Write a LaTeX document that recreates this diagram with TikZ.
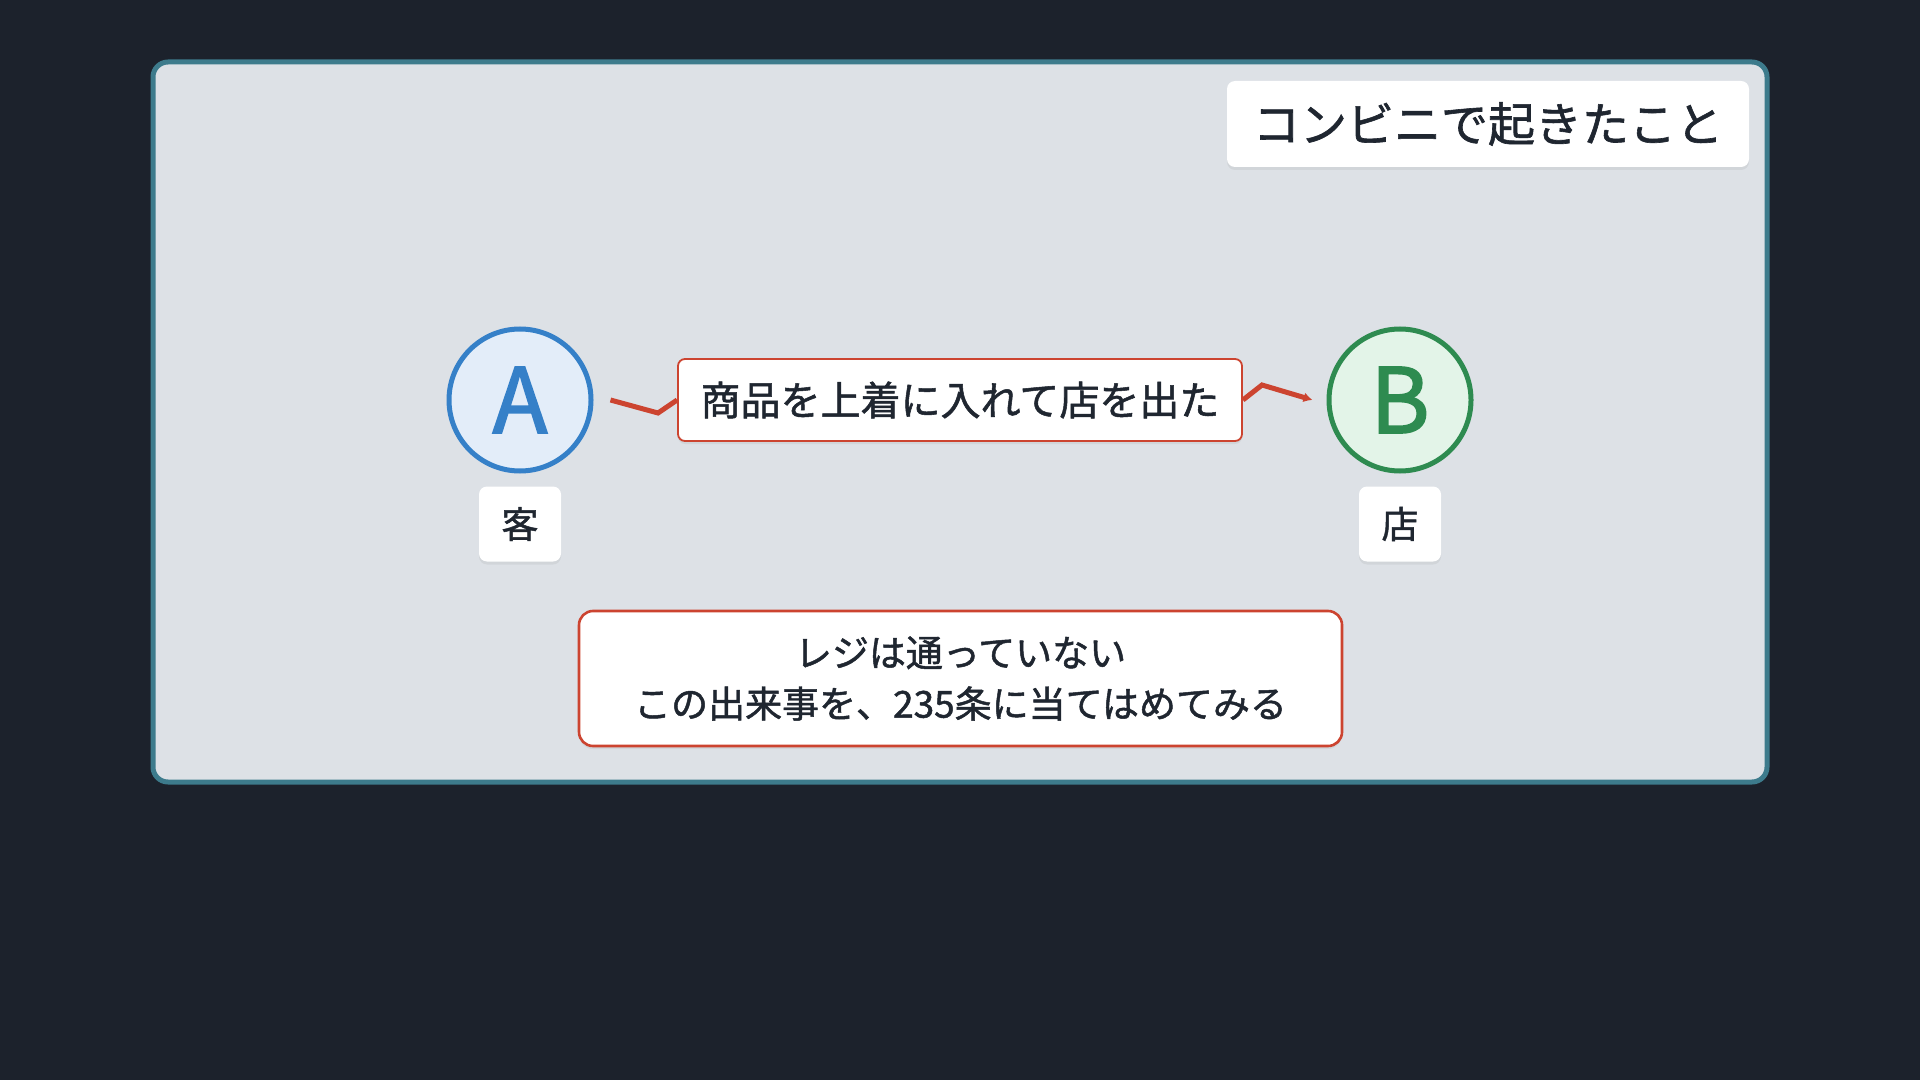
\documentclass[tikz,border=0pt]{standalone}
\usepackage{fontspec}
\setmainfont{Noto Sans CJK JP}
\newfontfamily\medfont{Noto Sans CJK JP}[FakeBold=1.3]
\newfontfamily\letterfont{Noto Sans CJK JP}[FakeBold=2.0]
\usetikzlibrary{arrows.meta,shadows}
\definecolor{bgdark}{HTML}{1C222C}
\definecolor{framefill}{HTML}{DDE1E6}
\definecolor{frameline}{HTML}{3D7B8C}
\definecolor{txt}{HTML}{1F2630}
\definecolor{ablue}{HTML}{3580C8}
\definecolor{afill}{HTML}{E3EDF9}
\definecolor{bgreen}{HTML}{2E8B50}
\definecolor{bfill}{HTML}{E3F4E8}
\definecolor{redline}{HTML}{CC4430}
\begin{document}
\begin{tikzpicture}[x=0.5pt,y=-0.5pt,
  softshadow/.style={drop shadow={opacity=0.12,shadow xshift=0pt,shadow yshift=-1.5pt}},
  tagbox/.style={draw=none,fill=white,rounded corners=4pt,text=txt,inner sep=0pt,softshadow},
  person/.style={circle,line width=2.5pt,minimum size=71pt,inner sep=0pt,font=\letterfont\fontsize{45}{45}\selectfont},
  edge/.style={draw=redline,line width=2.5pt,line join=miter},
  redbox/.style={draw=redline,fill=white,text=txt,inner sep=0pt,softshadow}
]
\useasboundingbox (0,0) rectangle (1920,1080);
\fill[bgdark] (0,0) rectangle (1920,1080);
\draw[frameline,fill=framefill,line width=2.5pt,rounded corners=7.5pt] (153,62) rectangle (1767,782);

\node[tagbox,minimum width=261pt,minimum height=43pt,font=\medfont\fontsize{23.5}{28}\selectfont] (title) at (1488,124) {コンビニで起きたこと};

\node[person,draw=ablue,fill=afill,text=ablue] (A) at (520,400) {A};
\node[person,draw=bgreen,fill=bfill,text=bgreen] (B) at (1400,400) {B};

\node[tagbox,minimum width=41pt,minimum height=37.5pt,font=\medfont\fontsize{18.5}{22}\selectfont] (la) at (520,524) {客};
\node[tagbox,minimum width=41pt,minimum height=37.5pt,font=\medfont\fontsize{18.5}{22}\selectfont] (lb) at (1400,524) {店};

\node[redbox,line width=0.9pt,rounded corners=3.5pt,minimum width=282pt,minimum height=41pt,font=\medfont\fontsize{20}{24}\selectfont] (act) at (960,400) {商品を上着に入れて店を出た};

\draw[edge] ([xshift=8.5pt]A.east) -- (658,413) -- (act.west);
\draw[edge,-{Latex[length=4.5pt,width=5pt]}] (act.east) -- (1262,385) -- ([xshift=-7pt]B.west);

\node[redbox,line width=1.3pt,rounded corners=7pt,minimum width=381.5pt,minimum height=67.5pt,align=center,font=\medfont\fontsize{18.5}{25.5}\selectfont] (note) at (960.5,678.5) {レジは通っていない\\この出来事を、235条に当てはめてみる};
\end{tikzpicture}
\end{document}
